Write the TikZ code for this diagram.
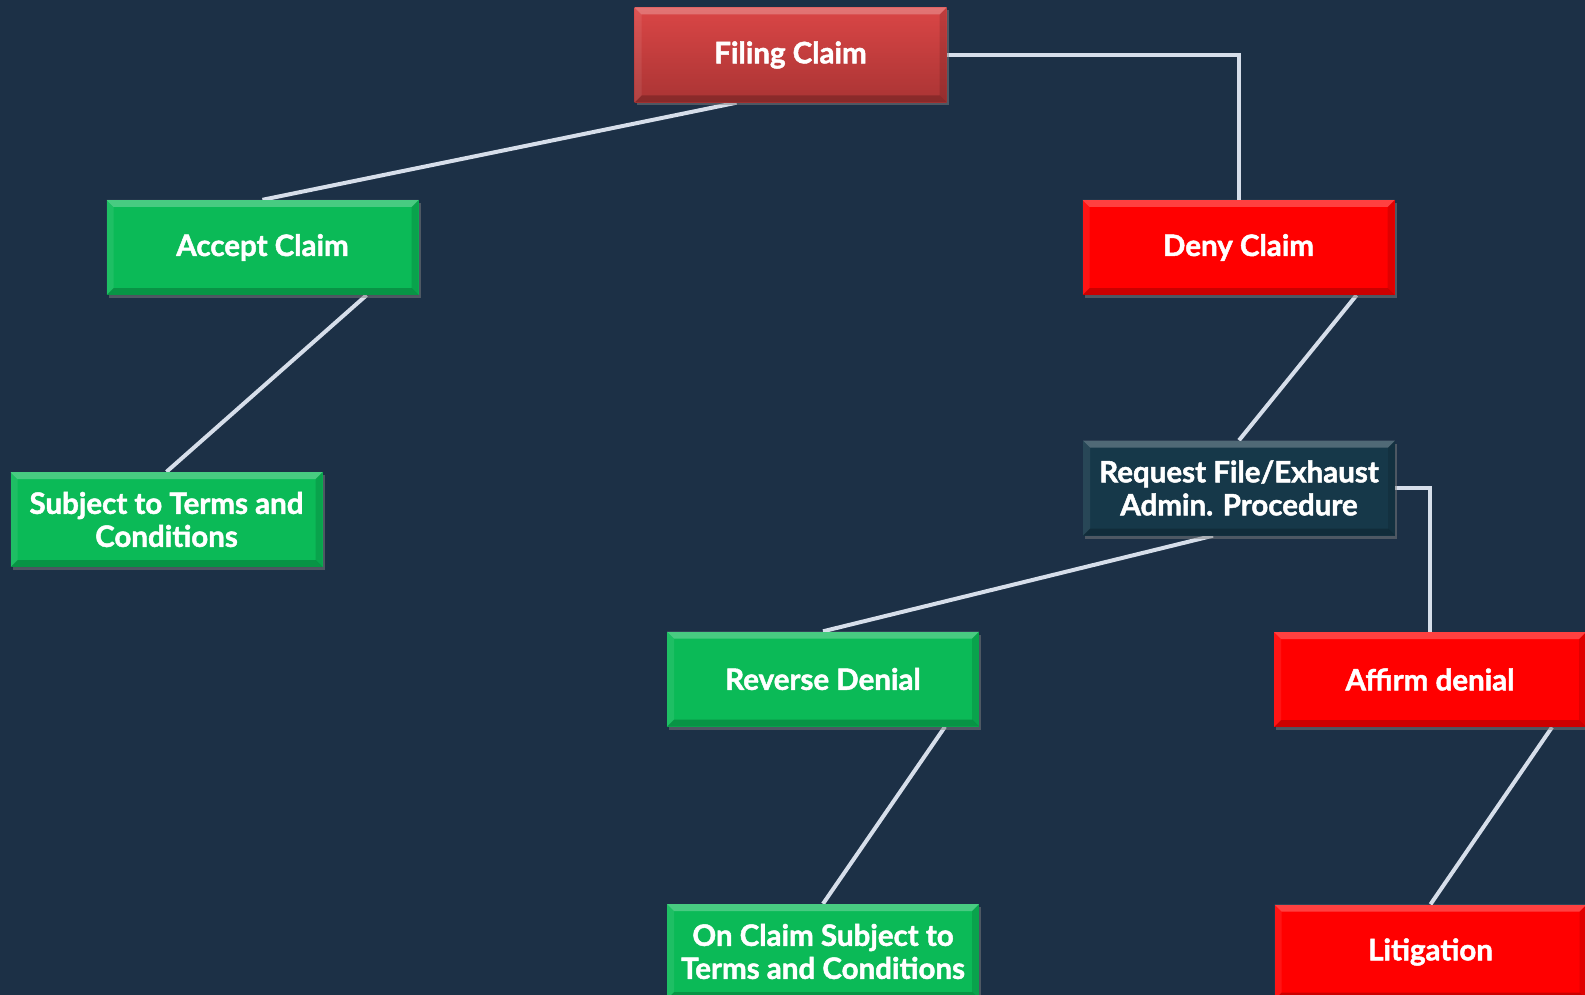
\documentclass[tikz,border=0pt]{standalone}
\usepackage{fontspec}
\setmainfont{Lato}[BoldFeatures={FakeBold=1.6}]
\usetikzlibrary{shadows,calc}
\definecolor{bgc}{HTML}{1C3046}
\definecolor{linec}{HTML}{D6DEEA}
\definecolor{fileA}{HTML}{DA4646}
\definecolor{fileB}{HTML}{AA3434}
\definecolor{redc}{HTML}{FF0000}
\definecolor{greenc}{HTML}{0BBA57}
\definecolor{tealc}{HTML}{163849}
\pgfdeclarelayer{bg}
\pgfdeclarelayer{lines}
\pgfsetlayers{bg,lines,main}
\tikzset{
  boxbase/.style={rectangle, minimum width=312pt, minimum height=95pt,
    align=center, text=white, font=\bfseries\fontsize{29.5}{33}\selectfont,
    drop shadow={opacity=0.5, shadow xshift=2pt, shadow yshift=-3pt},
    path picture={
      \fill[white,opacity=0.25] (path picture bounding box.north west) -- (path picture bounding box.north east)
        -- ([shift={(-7pt,-7pt)}]path picture bounding box.north east) -- ([shift={(7pt,-7pt)}]path picture bounding box.north west) -- cycle;
      \fill[black,opacity=0.2] (path picture bounding box.south west) -- (path picture bounding box.south east)
        -- ([shift={(-7pt,7pt)}]path picture bounding box.south east) -- ([shift={(7pt,7pt)}]path picture bounding box.south west) -- cycle;
      \fill[black,opacity=0.12] (path picture bounding box.north east) -- (path picture bounding box.south east)
        -- ([shift={(-7pt,7pt)}]path picture bounding box.south east) -- ([shift={(-7pt,-7pt)}]path picture bounding box.north east) -- cycle;
      \fill[white,opacity=0.08] (path picture bounding box.north west) -- (path picture bounding box.south west)
        -- ([shift={(7pt,7pt)}]path picture bounding box.south west) -- ([shift={(7pt,-7pt)}]path picture bounding box.north west) -- cycle;
    }},
  filebox/.style={boxbase, top color=fileA, bottom color=fileB},
  redbox/.style={boxbase, fill=redc},
  greenbox/.style={boxbase, fill=greenc},
  tealbox/.style={boxbase, fill=tealc},
  conn/.style={draw=linec, line width=4pt}
}
\begin{document}
\begin{tikzpicture}[x=1pt,y=-1pt]
\useasboundingbox (0,0) rectangle (1585,995);
\begin{pgfonlayer}{bg}
\fill[bgc] (0,0) rectangle (1585,995);
\end{pgfonlayer}
\clip (0,0) rectangle (1585,995);
\node[filebox]  (fil)  at (790.5,55)   {Filing Claim};
\node[greenbox] (acc)  at (262.5,247.5) {Accept Claim};
\node[redbox]   (deny) at (1238.5,247.5) {Deny Claim};
\node[tealbox]  (req)  at (1239,488)   {Request File/Exhaust\\Admin. Procedure};
\node[greenbox] (subj) at (166.5,519.5) {Subject to Terms and\\Conditions};
\node[greenbox] (rev)  at (823,679)    {Reverse Denial};
\node[redbox]   (aff)  at (1430,679.5) {Affirm denial};
\node[greenbox] (oncl) at (823,951.5)  {On Claim Subject to\\Terms and Conditions};
\node[redbox]   (lit)  at (1430.5,952) {Litigation};
\begin{pgfonlayer}{lines}
\draw[conn] ([xshift=-54pt]fil.south) -- (acc.north);
\draw[conn] (fil.east) -| (deny.north);
\draw[conn] ([xshift=104pt]acc.south) -- (subj.north);
\draw[conn] ([xshift=118pt]deny.south) -- (req.north);
\draw[conn] ([xshift=-26pt]req.south) -- (rev.north);
\draw[conn] (req.east) -| (aff.north);
\draw[conn] ([xshift=122pt]rev.south) -- (oncl.north);
\draw[conn] ([xshift=122pt]aff.south) -- (lit.north);
\end{pgfonlayer}
\end{tikzpicture}
\end{document}
